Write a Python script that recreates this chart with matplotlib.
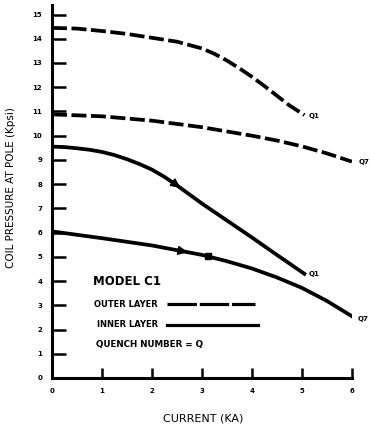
import numpy as np
import matplotlib
matplotlib.use("Agg")
import matplotlib.pyplot as plt

# current (KA) vs coil pressure at pole (Kpsi)
outer_q1_x = [0, 0.5, 1, 1.5, 2, 2.5, 3, 3.25, 3.5, 3.75, 4, 4.25, 4.5, 4.75, 5.05]
outer_q1_y = [14.45, 14.42, 14.32, 14.2, 14.04, 13.88, 13.6, 13.38, 13.1, 12.78, 12.43, 12.05, 11.65, 11.25, 10.85]

outer_q7_x = [0, 1, 2, 3, 4, 4.5, 5, 5.5, 6]
outer_q7_y = [10.88, 10.8, 10.62, 10.35, 10.0, 9.8, 9.56, 9.27, 8.93]

inner_q1_x = [0, 0.25, 0.5, 0.75, 1, 1.25, 1.5, 1.75, 2, 2.25, 2.5, 3, 3.5, 4, 4.5, 5.05]
inner_q1_y = [9.55, 9.53, 9.48, 9.42, 9.33, 9.2, 9.03, 8.83, 8.6, 8.3, 7.95, 7.2, 6.5, 5.8, 5.08, 4.3]

inner_q7_x = [0, 1, 2, 3, 3.5, 4, 4.5, 5, 5.5, 6]
inner_q7_y = [6.05, 5.77, 5.47, 5.08, 4.82, 4.52, 4.15, 3.72, 3.18, 2.55]

xticks = [0, 1, 2, 3, 4, 5, 6]
yticks = list(range(16))
ytick_labels = [str(v) for v in yticks]

fig = plt.figure(figsize=(3.7, 4.25), dpi=100)
ax = fig.add_axes([0.1405, 0.1106, 0.8105, 0.878])

dash = (4, 1.2)
lw = 2.7
ax.plot(outer_q1_x, outer_q1_y, color="black", lw=lw, dashes=dash)
ax.plot(outer_q7_x, outer_q7_y, color="black", lw=lw, dashes=dash)
ax.plot(inner_q1_x, inner_q1_y, color="black", lw=lw)
ax.plot(inner_q7_x, inner_q7_y, color="black", lw=lw)

# curve end labels
lab = dict(fontsize=5, fontweight="bold", va="center", ha="left", clip_on=False)
ax.annotate("Q1", (outer_q1_x[-1], outer_q1_y[-1]), xytext=(3, -1), textcoords="offset points", **lab)
ax.annotate("Q7", (outer_q7_x[-1], outer_q7_y[-1]), xytext=(5, 0), textcoords="offset points", **lab)
ax.annotate("Q1", (inner_q1_x[-1], inner_q1_y[-1]), xytext=(3, 0), textcoords="offset points", **lab)
ax.annotate("Q7", (inner_q7_x[-1], inner_q7_y[-1]), xytext=(4, -2), textcoords="offset points", **lab)

# arrow heads / marker on the inner curves
def head(xs, ys, x0):
    x1 = x0 + 0.1
    ax.annotate("", xy=(x1, np.interp(x1, xs, ys)), xytext=(x0, np.interp(x0, xs, ys)),
                arrowprops=dict(arrowstyle="-|>,head_length=0.6,head_width=0.28",
                                color="black", lw=1, mutation_scale=10))

head(inner_q1_x, inner_q1_y, 2.52)
head(inner_q7_x, inner_q7_y, 2.62)
ax.plot([3.12], [np.interp(3.12, inner_q7_x, inner_q7_y)], "s", color="black", ms=4.5)

# legend block drawn by hand like the original
ax.text(0.82, 4.0, "MODEL C1", fontsize=8.5, fontweight="bold", va="center")
ax.text(0.84, 3.05, "OUTER LAYER", fontsize=6, fontweight="bold", va="center")
ax.plot([2.3, 4.06], [3.05, 3.05], color="black", lw=2.3, dashes=(9.2, 0.9))
ax.text(0.9, 2.2, "INNER LAYER", fontsize=6, fontweight="bold", va="center")
ax.plot([2.3, 4.12], [2.2, 2.2], color="black", lw=2.3)
ax.text(0.88, 1.38, "QUENCH NUMBER = Q", fontsize=6.3, fontweight="bold", va="center")

ax.set_xlim(0, 6)
ax.set_ylim(0, 15.4)
ax.set_xticks(xticks)
ax.set_yticks(yticks)
ax.set_yticklabels(ytick_labels)
ax.tick_params(axis="y", direction="in", length=10, width=1.8, pad=7,
               labelsize=5)
ax.tick_params(axis="x", direction="in", length=7, width=1.8, pad=7,
               labelsize=5)
for t in ax.get_xticklabels() + ax.get_yticklabels():
    t.set_fontweight("bold")

for s in ["top", "right"]:
    ax.spines[s].set_visible(False)
for s in ["left", "bottom"]:
    ax.spines[s].set_linewidth(2.2)

ax.set_xlabel("CURRENT (KA)", fontsize=8)
ax.xaxis.set_label_coords(0.505, -0.095)
ax.set_ylabel("COIL PRESSURE AT POLE (Kpsi)", fontsize=7.5)
ax.yaxis.set_label_coords(-0.12, 0.51)

fig.savefig("out.png", dpi=100)
